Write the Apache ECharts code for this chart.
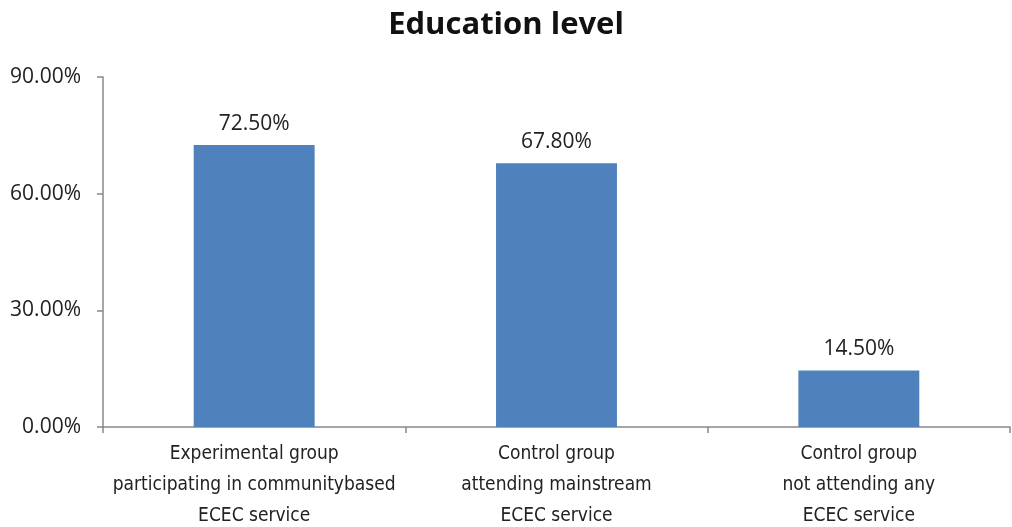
<!DOCTYPE html>
<html><head><meta charset="utf-8">
<script src="https://cdn.jsdelivr.net/npm/echarts@6/dist/echarts.min.js"></script>
<style>html,body{margin:0;padding:0;background:#fff}#c{width:1012px;height:527px}</style>
</head><body><div id="c"></div>
<script>
const title = 'Education level';
const categories = [
  'Experimental group\nparticipating in communitybased\nECEC service',
  'Control group\nattending mainstream\nECEC service',
  'Control group\nnot attending any\nECEC service'
];
const values = [72.5, 67.8, 14.5];
const yTicks = [0, 30, 60, 90];

const chart = echarts.init(document.getElementById('c'));
chart.setOption({
  animation: false,
  title: { text: title, left: 'center', top: 5,
    textStyle: { fontFamily: 'Open Sans', fontWeight: 'bold', fontSize: 31, color: '#111' } },
  grid: { left: 103, right: 2, top: 77, bottom: 100, containLabel: false, outerBoundsMode: 'none' },
  xAxis: {
    type: 'category', data: categories,
    axisLine: { lineStyle: { color: '#888', width: 1.5 } },
    axisTick: { show: true, alignWithLabel: false, length: 6, lineStyle: { color: '#888', width: 1.5 } },
    axisLabel: { interval: 0, fontFamily: '"DejaVu Sans Condensed", "Liberation Sans Narrow", "Roboto Condensed", sans-serif', fontSize: 19, color: '#222', lineHeight: 31, margin: 12 }
  },
  yAxis: {
    type: 'value', min: yTicks[0], max: yTicks[yTicks.length - 1], interval: 30,
    splitLine: { show: false },
    axisLine: { show: true, lineStyle: { color: '#888', width: 1.5 } },
    axisTick: { show: true, length: 6, lineStyle: { color: '#888', width: 1.5 } },
    axisLabel: { formatter: v => v.toFixed(2) + '%', fontFamily: 'Open Sans', fontSize: 21, color: '#222', margin: 22 }
  },
  series: [{
    type: 'bar', data: values, barWidth: '40%',
    itemStyle: { color: '#4f81bd' },
    label: { show: true, position: 'top', distance: 11, formatter: p => p.value.toFixed(2) + '%',
      fontFamily: 'Open Sans', fontSize: 21, color: '#222' }
  }]
});
</script></body></html>
